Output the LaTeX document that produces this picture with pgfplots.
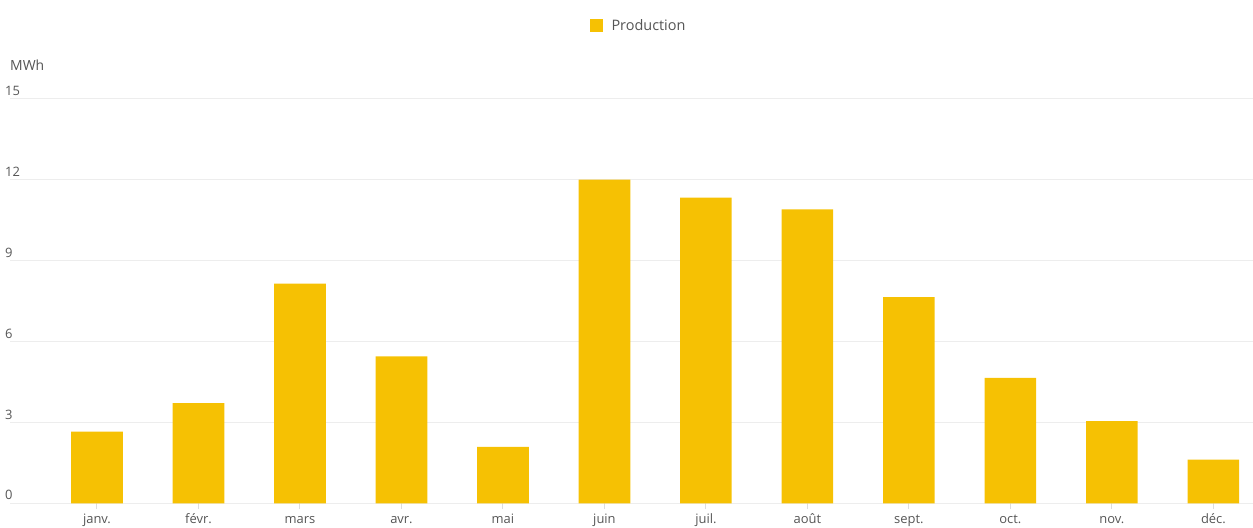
\documentclass[border=0pt]{standalone}
\usepackage{fontspec}
\setmainfont{Open Sans}
\usepackage{pgfplots}
\pgfplotsset{compat=1.18}
\definecolor{barc}{HTML}{F6C103}
\definecolor{gridc}{HTML}{EDEDED}
\definecolor{tickc}{HTML}{DDDDDD}
\definecolor{txt}{HTML}{555555}
\begin{document}
\begin{tikzpicture}
\useasboundingbox (-10bp,-24.7bp) rectangle (1243bp,503.3bp);
\begin{axis}[
  scale only axis, clip=false,
  width=1243bp, height=404.6bp,
  ybar, bar width=51.6bp,
  xmin=-0.857, xmax=11.39,
  ymin=0, ymax=15,
  ytick={0,3,6,9,12,15},
  xtick={0,...,11}, xtick pos=lower,
  xticklabels={janv.,févr.,mars,avr.,mai,juin,juil.,août,sept.,oct.,nov.,déc.},
  axis line style={draw=none},
  ymajorgrids, grid style={draw=gridc, line width=1.2bp},
  ytick style={draw=none},
  xtick style={draw=tickc, line width=1bp},
  tick align=outside, major tick length=6bp,
  /pgf/number format/assume math mode=true,
  tick label style={font=\fontsize{13}{15}\selectfont, text=txt},
  yticklabel style={anchor=south west, inner sep=1bp, xshift=0bp, yshift=2bp},
  xticklabel style={yshift=-2bp, text height=1.6ex, text depth=0.3ex},
  legend style={at={(0.5,1)}, anchor=center, xshift=8bp, yshift=72.7bp,
    draw=none, font=\fontsize{14.5}{17}\selectfont, text=txt,
    nodes={inner xsep=4bp}},
  legend image code/.code={\fill[barc] (-4bp,-6.5bp) rectangle (9bp,6.5bp);},
]
\addplot[fill=barc, draw=none] coordinates {
  (0,2.66) (1,3.71) (2,8.14) (3,5.45) (4,2.09) (5,12.0)
  (6,11.33) (7,10.90) (8,7.64) (9,4.65) (10,3.05) (11,1.62)
};
\legend{\hspace{5bp}Production}
\node[anchor=west, inner sep=0pt, text=txt, font=\fontsize{14}{16}\selectfont]
  at ([yshift=33bp]rel axis cs:0,1) {MWh};
\end{axis}
\end{tikzpicture}
\end{document}
